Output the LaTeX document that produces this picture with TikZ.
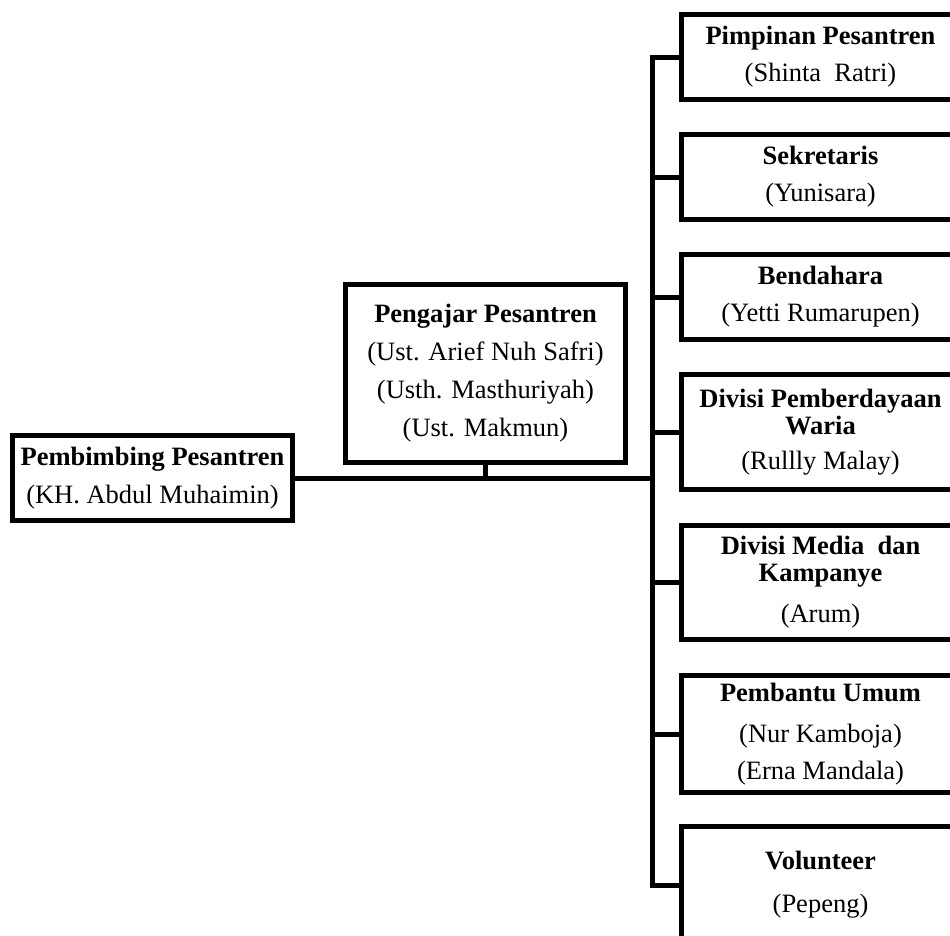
\documentclass[tikz,border=0pt]{standalone}
\usepackage{fontspec}
\setmainfont{Liberation Serif}
\tikzset{
  box/.style={draw, line width=5pt, inner sep=0pt, align=center, anchor=north west,
    font=\fontsize{26.5}{38}\selectfont, minimum width=#1},
  box/.default=278pt,
  conn/.style={line width=5pt, line join=miter},
}
\begin{document}
\begin{tikzpicture}[x=1pt,y=-1pt]
\useasboundingbox (0,0) rectangle (950,935);
\clip (0,0) rectangle (950,935);
\fill[white] (0,0) rectangle (950,935);
\coordinate (busx) at (652,0);
% left side
\node[box=280pt, minimum height=85pt] (pemb) at (10,433)
  {\textbf{Pembimbing Pesantren}\\(KH. Abdul Muhaimin)};
\node[box=280pt, minimum height=178pt] (peng) at (343,282)
  {\textbf{Pengajar Pesantren}\\(Ust. Arief Nuh Safri)\\(Usth. Masthuriyah)\\(Ust. Makmun)};
% right column
\node[box, minimum height=85pt] (pim) at (679,12)
  {\textbf{Pimpinan Pesantren}\\[-1pt](Shinta\ \ Ratri)};
\node[box, minimum height=85pt] (sek) at (679,132)
  {\textbf{Sekretaris}\\[-1pt](Yunisara)};
\node[box, minimum height=85pt] (ben) at (679,252)
  {\textbf{Bendahara}\\[-1pt](Yetti Rumarupen)};
\node[box, minimum height=115pt] (pem) at (679,372)
  {\textbf{Divisi Pemberdayaan}\\[-11pt]\textbf{Waria}\\[-3pt](Rullly Malay)};
\node[box, minimum height=114pt] (med) at (679,523)
  {\textbf{Divisi Media\ \ dan}\\[-11pt]\textbf{Kampanye}\\[3pt](Arum)};
\node[box, minimum height=117pt] (pu) at (679,673)
  {\textbf{Pembantu Umum}\\[3pt](Nur Kamboja)\\[-1pt](Erna Mandala)};
\node[box, minimum height=117pt] (vol) at (679,824)
  {\textbf{Volunteer}\\[5pt](Pepeng)};
% connectors
\draw[conn] (pim.west) -- (pim.west -| busx) -- (vol.west -| busx) -- (vol.west);
\foreach \n in {sek,ben,pem,med,pu}
  \draw[conn] (\n.west) -- (\n.west -| busx);
\draw[conn] (pemb.east) -- (pemb.east -| busx);
\draw[conn] (peng.south) -- (peng.south |- pemb.east);
\end{tikzpicture}
\end{document}
